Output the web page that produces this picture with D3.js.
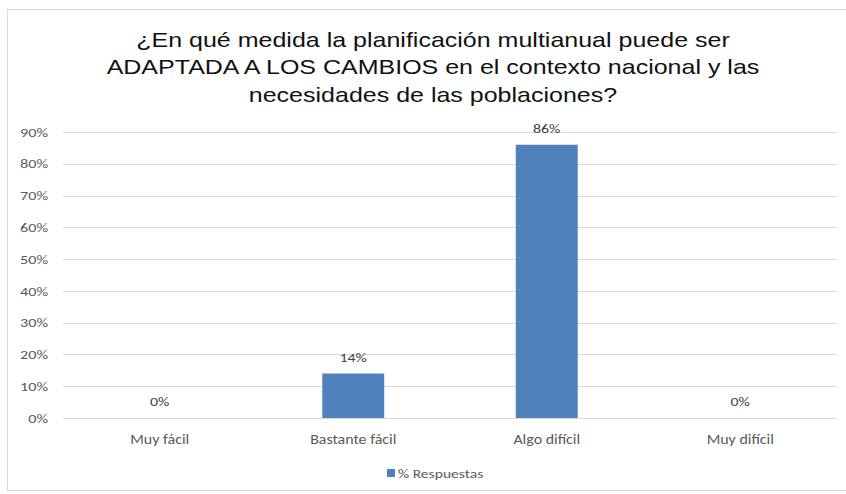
<!DOCTYPE html>
<html>
<head>
<meta charset="utf-8">
<script src="https://cdn.jsdelivr.net/npm/d3@7"></script>
<style>
  html, body { margin: 0; padding: 0; background: #fff; }
  svg { display: block; }
</style>
</head>
<body>
<svg id="chart" width="846" height="494"></svg>
<script>
// Survey answers and their share of responses
const categories = ["Muy fácil", "Bastante fácil", "Algo difícil", "Muy difícil"];
const values = [0, 0.14, 0.86, 0];
const valueLabels = ["0%", "14%", "86%", "0%"];
const yTicks = [0, 0.1, 0.2, 0.3, 0.4, 0.5, 0.6, 0.7, 0.8, 0.9];
const seriesName = "% Respuestas";
const titleLines = [
  "¿En qué medida la planificación multianual puede ser",
  "ADAPTADA A LOS CAMBIOS en el contexto nacional y las",
  "necesidades de las poblaciones?"
];

const W = 846, H = 494;
const plot = { left: 63, right: 837, top: 132, bottom: 418 };
const barColor = "#4f81bd";
const gridColor = "#d9d9d9";
const axisFont = "Carlito, 'Liberation Sans Narrow', 'DejaVu Sans Condensed', sans-serif";

// widen a text horizontally around its own anchor point
function widen(sel, k) {
  sel.attr("transform", function () {
    const x = +this.getAttribute("x") || 0;
    return `translate(${x * (1 - k)},0) scale(${k},1)`;
  });
}

const svg = d3.select("#chart");

// chart frame
svg.append("rect")
  .attr("x", 7.5).attr("y", 9.5)
  .attr("width", W + 10).attr("height", 481)
  .attr("fill", "#fff").attr("stroke", gridColor);

// title
svg.append("g").selectAll("text").data(titleLines).join("text")
  .attr("x", 433)
  .attr("y", (d, i) => 47 + i * 27.5)
  .attr("text-anchor", "middle")
  .attr("font-family", "'Liberation Sans', Arial, sans-serif")
  .attr("font-size", 20.5)
  .attr("fill", "#111")
  .text(d => d)
  .call(widen, 1.22);

const x = d3.scaleBand().domain(categories)
  .range([plot.left, plot.right]).paddingInner(0.68).paddingOuter(0.34);
const y = d3.scaleLinear().domain([0, 0.9]).range([plot.bottom, plot.top]);

// horizontal gridlines
svg.append("g").selectAll("line").data(yTicks).join("line")
  .attr("x1", plot.left).attr("x2", plot.right)
  .attr("y1", d => Math.round(y(d)) + 0.5).attr("y2", d => Math.round(y(d)) + 0.5)
  .attr("stroke", gridColor).attr("stroke-width", 1);

// y axis labels
const yAxis = d3.axisLeft(y).tickValues(yTicks).tickFormat(d3.format(".0%")).tickSize(0).tickPadding(15);
const yg = svg.append("g").attr("transform", `translate(${plot.left},0)`).call(yAxis);
yg.select(".domain").remove();
yg.selectAll("text")
  .attr("font-family", axisFont).attr("font-size", 13).attr("fill", "#595959")
  .call(widen, 1.25);

// bars
svg.append("g").selectAll("rect").data(values).join("rect")
  .attr("x", (d, i) => x(categories[i]))
  .attr("width", x.bandwidth())
  .attr("y", d => y(d))
  .attr("height", d => y(0) - y(d))
  .attr("fill", barColor);

// value labels
svg.append("g").selectAll("text").data(values).join("text")
  .attr("x", (d, i) => x(categories[i]) + x.bandwidth() / 2)
  .attr("y", d => y(d) - 11.5)
  .attr("text-anchor", "middle")
  .attr("font-family", axisFont).attr("font-size", 13).attr("fill", "#404040")
  .text((d, i) => valueLabels[i])
  .call(widen, 1.22);

// category axis
const xAxis = d3.axisBottom(x).tickSize(0).tickPadding(16);
const xg = svg.append("g").attr("transform", `translate(0,${plot.bottom})`).call(xAxis);
xg.select(".domain").remove();
xg.selectAll("text")
  .attr("font-family", axisFont).attr("font-size", 13.5).attr("fill", "#595959")
  .call(widen, 1.18);

// legend
const lg = svg.append("g").attr("transform", "translate(387,469)");
lg.append("rect").attr("x", 0).attr("y", 0).attr("width", 8).attr("height", 8).attr("fill", barColor);
lg.append("text").attr("x", 11).attr("y", 9)
  .attr("font-family", axisFont).attr("font-size", 13).attr("fill", "#595959")
  .text(seriesName)
  .call(widen, 1.2);
</script>
</body>
</html>
